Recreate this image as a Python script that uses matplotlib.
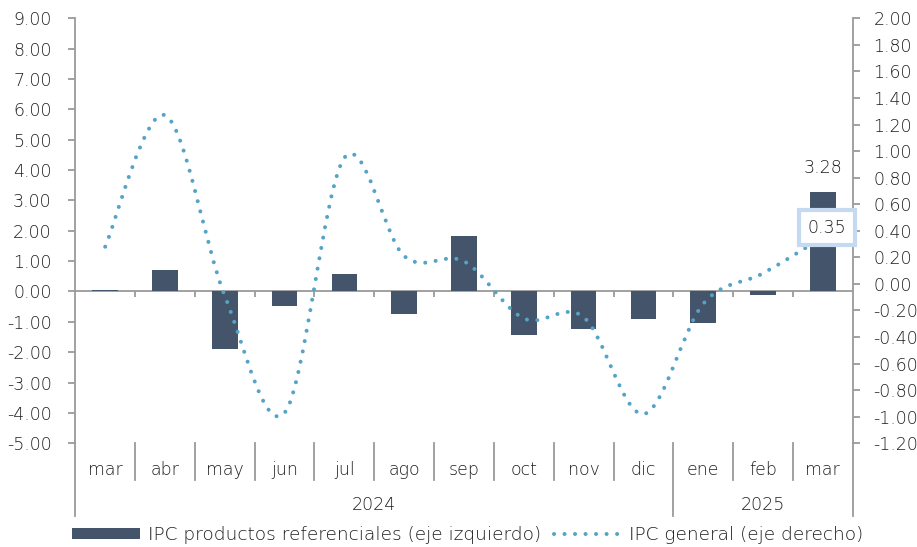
import matplotlib.pyplot as plt
from matplotlib.path import Path
from matplotlib.patches import PathPatch, Patch
from matplotlib.lines import Line2D

plt.rcParams['font.family'] = ['DejaVu Sans']
plt.rcParams['font.weight'] = 200

months = ['mar', 'abr', 'may', 'jun', 'jul', 'ago', 'sep', 'oct', 'nov', 'dic', 'ene', 'feb', 'mar']
years = ['2024', '2025']
year_sizes = [10, 3]
ipc_ref = [0.05, 0.72, -1.88, -0.48, 0.58, -0.74, 1.83, -1.42, -1.23, -0.92, -1.04, -0.11, 3.28]
ipc_gen = [0.28, 1.27, -0.09, -0.97, 0.95, 0.21, 0.17, -0.26, -0.25, -0.98, -0.15, 0.08, 0.35]

BAR = '#44546a'
LINE = '#55a3c6'
AXC = '#9a9a9a'
TXT = '#1e1e1e'
FS = 12.5

fig = plt.figure(figsize=(9.17, 5.47), dpi=100)
ax = fig.add_axes([0.0821, 0.1896, 0.8478, 0.777])
ax2 = ax.twinx()

x = list(range(len(months)))
ax.bar(x, ipc_ref, width=0.43, color=BAR, zorder=2)
ax.set_xlim(-0.5, len(months) - 0.5)
ax.set_ylim(-5, 9)
ax.set_yticks(range(-5, 10))
ax.set_yticklabels([f'{v:.2f}' for v in range(-5, 10)])
ax2.set_ylim(-1.2, 2.0)
ticks2 = [i / 5 for i in range(-6, 11)]
ax2.set_yticks(ticks2)
ax2.set_yticklabels([f'{v:.2f}' for v in ticks2])

# smoothed line (Catmull-Rom as cubic bezier)
pts = list(zip(x, ipc_gen))
verts = [pts[0]]
codes = [Path.MOVETO]
n = len(pts)
for i in range(n - 1):
    p0 = pts[max(i - 1, 0)]
    p1 = pts[i]
    p2 = pts[i + 1]
    p3 = pts[min(i + 2, n - 1)]
    c1 = (p1[0] + (p2[0] - p0[0]) / 6, p1[1] + (p2[1] - p0[1]) / 6)
    c2 = (p2[0] - (p3[0] - p1[0]) / 6, p2[1] - (p3[1] - p1[1]) / 6)
    verts += [c1, c2, p2]
    codes += [Path.CURVE4] * 3
line_style = (0, (0.01, 2.6))
LW = 2.9
patch = PathPatch(Path(verts, codes), fill=False, edgecolor=LINE, linewidth=LW,
                  linestyle=line_style, capstyle='round', zorder=3)
ax2.add_patch(patch)

for a in (ax, ax2):
    for s in ('top', 'bottom'):
        a.spines[s].set_visible(False)
    a.spines['left'].set_color(AXC)
    a.spines['right'].set_color(AXC)
    a.spines['left'].set_linewidth(1.3)
    a.spines['right'].set_linewidth(1.3)
    a.tick_params(axis='y', colors=AXC, labelcolor=TXT, labelsize=FS, length=5, width=1.3)
ax.spines['right'].set_visible(False)
ax2.spines['left'].set_visible(False)
ax.tick_params(axis='y', pad=12)
ax2.tick_params(axis='y', pad=10)

# horizontal axis at zero with small ticks
ax.axhline(0, color=AXC, linewidth=1.3, zorder=1)
bounds = [i + 0.5 for i in range(len(months) - 1)]
ax.vlines(bounds, -0.17, 0, color=AXC, linewidth=1.3, zorder=1)

# category labels below the plot
ax.set_xticks(x)
ax.set_xticklabels(months)
ax.tick_params(axis='x', length=0, pad=13, labelsize=FS, labelcolor=TXT)
tr = ax.get_xaxis_transform()
year_edges = [-0.5]
for sz in year_sizes:
    year_edges.append(year_edges[-1] + sz)
for b in bounds:
    if b not in year_edges:
        ax.plot([b, b], [0, -0.087], transform=tr, color=AXC, lw=1.3, clip_on=False)
for b in year_edges:
    ax.plot([b, b], [0, -0.172], transform=tr, color=AXC, lw=1.3, clip_on=False)
for yr, a0, a1 in zip(years, year_edges[:-1], year_edges[1:]):
    ax.text((a0 + a1) / 2, -0.146, yr, transform=tr, ha='center', va='center',
            fontsize=FS, color=TXT)

# data labels
ax.text(x[-1], ipc_ref[-1] + 0.5, f'{ipc_ref[-1]:.2f}', ha='center', va='bottom',
        fontsize=FS, color=TXT)
ax2.annotate(f'{ipc_gen[-1]:.2f}', (x[-1], ipc_gen[-1]), xytext=(3, 7),
             textcoords='offset points', ha='center', va='center', fontsize=FS, color=TXT,
             bbox=dict(boxstyle='square,pad=0.5', fc='white', ec='#c5d9f1', lw=3), zorder=5)

handles = [Patch(facecolor=BAR, edgecolor='none'),
           Line2D([], [], color=LINE, lw=LW, linestyle=line_style, dash_capstyle='round')]
fig.legend(handles, ['IPC productos referenciales (eje izquierdo)', 'IPC general (eje derecho)'],
           loc='lower center', bbox_to_anchor=(0.51, -0.025), ncol=2, frameon=False,
           fontsize=13.3, labelcolor=TXT, handlelength=3.7, handleheight=0.6,
           handletextpad=0.4, columnspacing=0.7)

fig.savefig('out.png', dpi=100)
